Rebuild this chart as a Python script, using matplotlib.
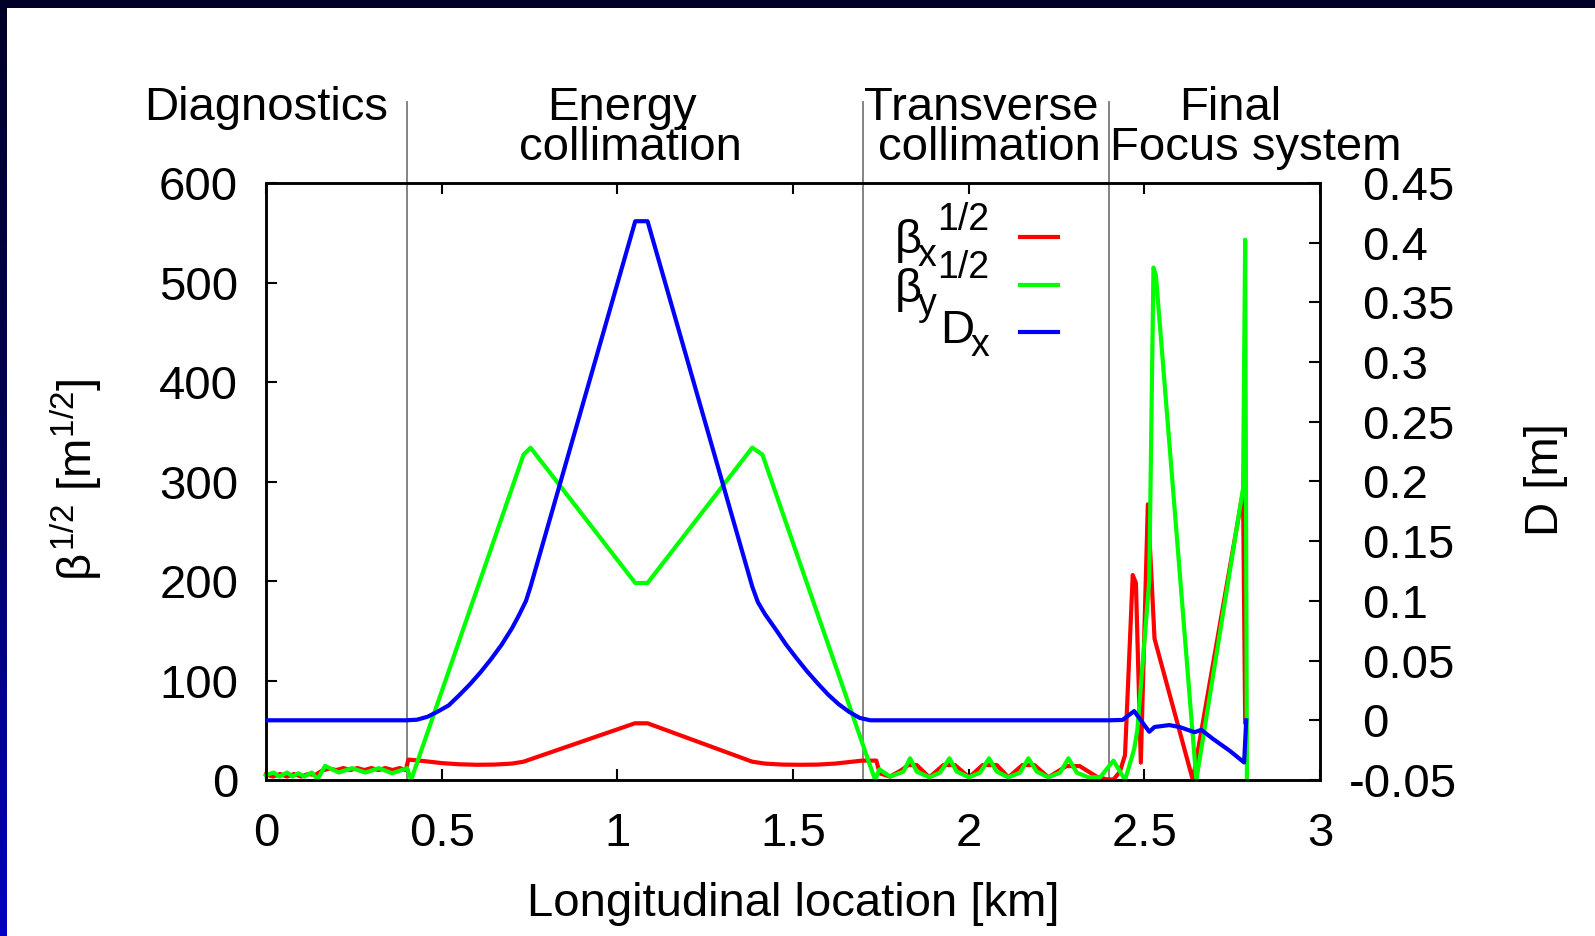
import numpy as np
import matplotlib
matplotlib.use("Agg")
import matplotlib.pyplot as plt
from matplotlib.patches import Rectangle
from matplotlib.lines import Line2D
from matplotlib.colors import LinearSegmentedColormap
from matplotlib.transforms import blended_transform_factory, ScaledTranslation

plt.rcParams["font.family"] = ["Liberation Sans", "DejaVu Sans"]
plt.rcParams["mathtext.fontset"] = "custom"
plt.rcParams["mathtext.rm"] = "Liberation Sans"
plt.rcParams["mathtext.it"] = "Liberation Sans"
plt.rcParams["mathtext.bf"] = "Liberation Sans:bold"
plt.rcParams["axes.unicode_minus"] = False

# ---------------- optics along the beam delivery system ----------------
# sqrt(beta_x) [m^1/2]
s_bx = [0.0, 0.02, 0.04, 0.06, 0.08, 0.10, 0.12, 0.14, 0.16, 0.18, 0.20, 0.22,
        0.24, 0.26, 0.28, 0.30, 0.32, 0.34, 0.36, 0.38, 0.398, 0.405, 0.45, 0.50,
        0.55, 0.60, 0.65, 0.70, 0.733, 1.05, 1.086, 1.384, 1.42, 1.47, 1.52,
        1.57, 1.62, 1.697, 1.737, 1.747, 1.776, 1.809, 1.828, 1.852, 1.888,
        1.928, 1.961, 2.001, 2.040, 2.080, 2.113, 2.153, 2.187, 2.227, 2.278,
        2.316, 2.364, 2.393, 2.412, 2.430, 2.445, 2.467, 2.476, 2.490, 2.510,
        2.529, 2.638, 2.781, 2.787]
bx = [5.5, 3.5, 6.0, 3.5, 6.0, 3.5, 6.0, 5.0, 9.5, 11.5, 10.0, 12.0,
      10.0, 12.0, 10.0, 12.0, 10.0, 12.0, 10.0, 12.0, 10.0, 20.5, 19.0, 17.0,
      15.8, 15.3, 15.5, 16.5, 18.4, 57.0, 57.0, 18.4, 16.5, 15.5, 15.3,
      15.5, 16.5, 19.5, 19.5, 6.7, 3.4, 10.0, 15.0, 15.0, 2.7,
      15.0, 15.0, 2.7, 15.0, 15.0, 2.7, 15.0, 15.0, 2.7, 14.0,
      14.0, 3.4, 0.7, 0.5, 8.0, 25.0, 206.0, 198.0, 17.5, 277.0,
      142.0, 0.0, 290.0, 58.0]

# sqrt(beta_y) [m^1/2]
s_by = [0.0, 0.022, 0.038, 0.060, 0.076, 0.092, 0.109, 0.130, 0.147, 0.168,
        0.207, 0.245, 0.283, 0.321, 0.359, 0.402, 0.413, 0.733, 0.753, 1.051,
        1.086, 1.384, 1.413, 1.7336, 1.7459, 1.7763, 1.8143, 1.8332, 1.8522,
        1.8882, 1.9186, 1.9452, 1.966, 2.0011, 2.0325, 2.058, 2.0799, 2.1131,
        2.1463, 2.170, 2.1937, 2.227, 2.2602, 2.2839, 2.3076, 2.3408, 2.3741,
        2.4121, 2.4453, 2.471, 2.480, 2.514, 2.526, 2.533, 2.648, 2.781, 2.787,
        2.792]
by = [5.0, 7.5, 3.4, 7.5, 3.4, 6.8, 3.4, 7.5, 0.7, 14.2,
      7.5, 11.9, 7.5, 11.9, 6.8, 11.9, 0.0, 327.0, 334.0, 198.0,
      198.0, 334.0, 327.0, 0.0, 10.7, 3.4, 8.4, 21.8, 8.4,
      2.7, 7.4, 21.8, 8.4, 2.7, 7.4, 21.8, 8.4, 2.7,
      7.4, 21.8, 8.4, 2.7, 7.4, 21.8, 7.4, 2.7, 2.7,
      19.4, 0.0, 31.0, 50.0, 200.0, 515.0, 507.0, 0.0, 293.0, 543.0,
      0.0]

# horizontal dispersion D_x [m]
s_dx = [0.0, 0.40, 0.43, 0.46, 0.49, 0.52, 0.55, 0.58, 0.61, 0.64, 0.67,
        0.70, 0.72, 0.74, 0.753, 1.051, 1.086, 1.384, 1.40, 1.42, 1.45, 1.48,
        1.51, 1.54, 1.57, 1.60, 1.63, 1.66, 1.69, 1.72,
        2.40, 2.438, 2.471, 2.514, 2.529, 2.571, 2.60, 2.643, 2.662, 2.695,
        2.743, 2.784, 2.79]
dx = [0.0, 0.0, 0.0005, 0.003, 0.0075, 0.0125, 0.021, 0.030, 0.040, 0.051,
      0.063, 0.077, 0.088, 0.100, 0.112, 0.418, 0.418, 0.112, 0.099, 0.089,
      0.0765, 0.0635, 0.052, 0.041, 0.031, 0.0215, 0.0135, 0.007, 0.002, 0.0,
      0.0, 0.0003, 0.0077, -0.0096, -0.0056, -0.004, -0.0056, -0.010, -0.008,
      -0.0155, -0.0255, -0.0353, 0.0]

# section boundaries [km] and their titles
section_edges = [0.4, 1.7, 2.4]
section_titles = [("Diagnostics", "", 0.0, 0.0),
                  ("Energy", "collimation", 1.0135, 1.037),
                  ("Transverse", "collimation", 2.036, 2.059),
                  ("Final", "Focus system", 2.745, 2.818)]

x_ticks = [0, 0.5, 1, 1.5, 2, 2.5, 3]
x_ticklabels = ["0", "0.5", "1", "1.5", "2", "2.5", "3"]
y_ticks = [0, 100, 200, 300, 400, 500, 600]
d_ticks = [-0.05, 0.0, 0.05, 0.1, 0.15, 0.2, 0.25, 0.3, 0.35, 0.4, 0.45]
d_ticklabels = ["-0.05", "0", "0.05", "0.1", "0.15", "0.2", "0.25", "0.3",
                "0.35", "0.4", "0.45"]

# key entries: (main symbol, subscript, superscript)
key_parts = [("β", "x", "1/2"), ("β", "y", "1/2"), ("D", "x", "")]
RED, GREEN, BLUE = "#ff0000", "#00ff00", "#0000ff"
key_colors = [RED, GREEN, BLUE]

FS = 34
FS_SMALL = 27
LW = 3.0

W, H = 1595, 936
fig = plt.figure(figsize=(W / 100, H / 100), dpi=100)
fig.patch.set_facecolor("white")


def fx(px):
    return px / W


def fy(py):
    return 1 - py / H


# slide frame: gradient strip on the left and dark band on top
gax = fig.add_axes([0, 0, 7 / W, 1])
cmap = LinearSegmentedColormap.from_list("frame", ["#0000c0", "#00005a", "#000028"])
gax.imshow(np.linspace(0, 1, 256).reshape(-1, 1), aspect="auto", cmap=cmap,
           origin="lower", extent=[0, 1, 0, 1])
gax.axis("off")
fig.add_artist(Rectangle((0, 1 - 7.5 / H), 1, 7.5 / H, transform=fig.transFigure,
                         facecolor="#000028", edgecolor="none", zorder=10))

ax = fig.add_axes([266 / W, (H - 780) / H, 1054 / W, 597 / H])
ax.plot(s_bx, bx, color=RED, lw=LW, zorder=3, clip_on=False)
ax.plot(s_by, by, color=GREEN, lw=LW, zorder=4, clip_on=False)
ax.set_xlim(0, 3)
ax.set_ylim(0, 600)
ax.set_xticks(x_ticks)
ax.set_xticklabels(x_ticklabels)
ax.set_yticks(y_ticks)

ax2 = ax.twinx()
ax2.plot(s_dx, dx, color=BLUE, lw=LW, zorder=5)
ax2.set_ylim(-0.05, 0.45)
ax2.set_yticks(d_ticks)
ax2.set_yticklabels(d_ticklabels)

for a in (ax, ax2):
    for sp in a.spines.values():
        sp.set_linewidth(1.8)
        sp.set_color("black")

ax.tick_params(axis="x", direction="in", length=8, width=1.5, labelsize=FS,
               top=True, pad=23)
ax.tick_params(axis="y", direction="in", length=8, width=1.5, labelsize=FS,
               right=False, pad=20)
ax2.tick_params(axis="y", direction="in", length=8, width=1.5, labelsize=FS,
                pad=30)

# the negative label hangs out to the left, as in the original plot
for lab in ax2.get_yticklabels():
    if lab.get_text().startswith("-"):
        lab.set_transform(lab.get_transform() +
                          ScaledTranslation(-13 / 100, 0, fig.dpi_scale_trans))

# section boundaries
for xe in section_edges:
    ax.axvline(xe, ymin=0, ymax=1.136, color="#7a7a7a", lw=1.3, clip_on=False,
               zorder=1)

btr = blended_transform_factory(ax.transData, ax.transAxes)
for l1, l2, x1, x2 in section_titles:
    ax.text(x1, 1.1055, l1, transform=btr, ha="center", va="baseline", fontsize=FS)
    if l2:
        ax.text(x2, 1.0385, l2, transform=btr, ha="center", va="baseline", fontsize=FS)

# key (gnuplot-style: right-justified titles followed by line samples)
sample_y = [237, 285, 332]
main_base = [253.5, 302, 343]
for (sym, sub, sup), col, yy, yb in zip(key_parts, key_colors, sample_y, main_base):
    if sup:
        fig.text(fx(895), fy(yb), sym, ha="left", va="baseline", fontsize=FS)
        fig.text(fx(918), fy(yb + 13), sub, ha="left", va="baseline",
                 fontsize=FS_SMALL)
        fig.text(fx(989), fy(yb - 24), sup, ha="right", va="baseline",
                 fontsize=FS_SMALL)
    else:
        fig.text(fx(940), fy(yb), sym, ha="left", va="baseline", fontsize=FS)
        fig.text(fx(989), fy(yb + 13), sub, ha="right", va="baseline",
                 fontsize=FS_SMALL)
    fig.add_artist(Line2D([fx(1020), fx(1058)], [fy(yy), fy(yy)],
                          transform=fig.transFigure, color=col, lw=LW))

# axis titles
fig.text(76 / W, 1 - 480 / H, r"$\beta^{1/2}$ [m$^{1/2}$]", rotation=90,
         ha="center", va="center", fontsize=FS)
fig.text(1546 / W, 1 - 480 / H, "D [m]", rotation=90, ha="center", va="center",
         fontsize=FS)
fig.text(793 / W, 1 - 916 / H, "Longitudinal location [km]", ha="center",
         va="baseline", fontsize=FS)

fig.savefig("out.png", dpi=100)
